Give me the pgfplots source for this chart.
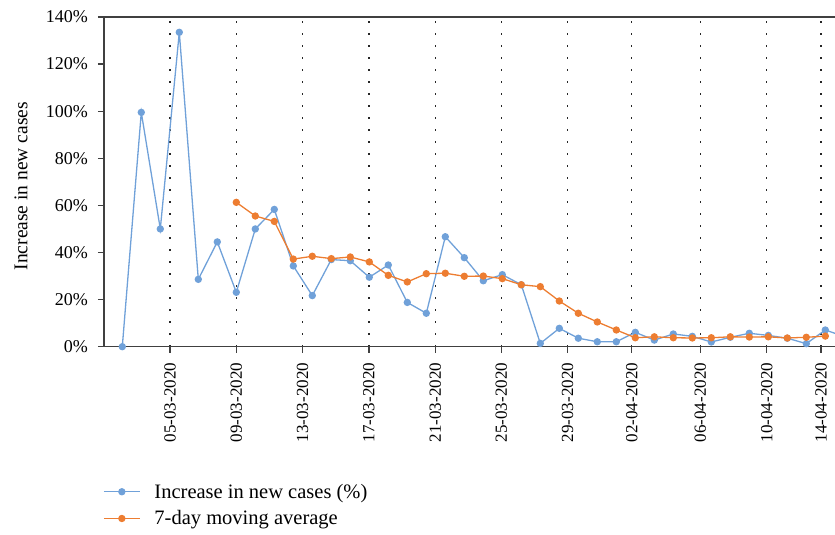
\documentclass[border=0pt]{standalone}
\usepackage{pgfplots}
\pgfplotsset{compat=1.18}
\usepackage{fontspec}
\setmainfont{Liberation Serif}
\definecolor{cblue}{HTML}{70A1D9}
\definecolor{corange}{HTML}{ED7D31}
\definecolor{axgray}{HTML}{404040}
\begin{document}
\begin{tikzpicture}
\begin{axis}[
  scale only axis,
  width=731pt, height=329.7pt,
  xmin=-0.963, xmax=37.51,
  ymin=0, ymax=140,
  axis x line=box, axis y line=left,
  axis line style={-, axgray, line width=1.5pt},
  tick style={axgray, line width=1.2pt},
  tick align=outside,
  major tick length=6pt,
  xtick pos=bottom, ytick pos=left,
  xtick={2.51,6.0,9.49,12.98,16.47,19.95,23.44,26.81,30.42,33.92,36.77},
  xticklabels={05-03-2020,09-03-2020,13-03-2020,17-03-2020,21-03-2020,25-03-2020,29-03-2020,02-04-2020,06-04-2020,10-04-2020,14-04-2020},
  xticklabel style={rotate=90, anchor=east, font=\fontsize{17}{17}\selectfont, inner sep=0pt},
  xmajorgrids,
  x grid style={black!85, line width=1.3pt, dash pattern=on 1.3pt off 10.7pt},
  ytick={0,20,...,140},
  yticklabel={\pgfmathprintnumber{\tick}\%},
  /pgf/number format/assume math mode=true,
  yticklabel style={font=\fontsize{18}{18}\selectfont, inner sep=0pt, xshift=-10pt},
  xticklabel shift=10pt,
  ylabel={Increase in new cases},
  every axis y label/.style={at={(axis description cs:-0.1135,0.487)}, rotate=90, anchor=center, font=\fontsize{19.5}{19.5}\selectfont},
  legend style={at={(rel axis cs:0,0)}, anchor=north west, xshift=-1pt, yshift=-135pt,
    draw=none, fill=none, font=\fontsize{20.5}{22}\selectfont, row sep=7pt, column sep=12pt,
    cells={anchor=west}, inner sep=0pt},
  legend image code/.code={\draw[mark repeat=2,mark phase=2,#1] plot coordinates {(0pt,0pt) (18pt,0pt) (36pt,0pt)};},
  legend cell align=left,
  clip=true,
]
\coordinate (bl) at (rel axis cs:0,0);
\coordinate (tr) at (rel axis cs:1,1);
\addplot[cblue, line width=1.3pt, mark=*, mark size=3pt, mark options={fill=cblue, draw=cblue}] coordinates {
(0,0) (1,99.5) (2,50.0) (3,133.5) (4,28.6) (5,44.5) (6,23.1) (7,50.0) (8,58.3) (9,34.3)
(10,21.7) (11,37.0) (12,36.5) (13,29.5) (14,34.7) (15,18.8) (16,14.2) (17,46.7) (18,37.8) (19,28.0)
(20,30.6) (21,26.3) (22,1.4) (23,7.8) (24,3.6) (25,2.1) (26,2.1) (27,6.1) (28,2.8) (29,5.4)
(30,4.4) (31,2.0) (32,4.0) (33,5.7) (34,4.8) (35,3.6) (36,1.3) (37,7.1) (38,4.3)
};
\addlegendentry{Increase in new cases (\%)}
\addplot[corange, line width=1.3pt, mark=*, mark size=3pt, mark options={fill=corange, draw=corange}] coordinates {
(6,61.3) (7,55.5) (8,53.2) (9,37.2) (10,38.4) (11,37.4) (12,38.1) (13,36.0) (14,30.3) (15,27.5)
(16,31.0) (17,31.2) (18,29.9) (19,30.0) (20,28.9) (21,26.3) (22,25.5) (23,19.4) (24,14.2) (25,10.5)
(26,7.1) (27,3.8) (28,4.2) (29,3.8) (30,3.7) (31,3.8) (32,4.2) (33,4.1) (34,4.2) (35,3.7)
(36,4.0) (37,4.5)
};
\addlegendentry{7-day moving average}
\end{axis}
\pgfresetboundingbox
\path[use as bounding box] ([shift={(-104pt,-188.3pt)}]bl) rectangle ([shift={(0pt,17pt)}]tr);
\end{tikzpicture}
\end{document}
